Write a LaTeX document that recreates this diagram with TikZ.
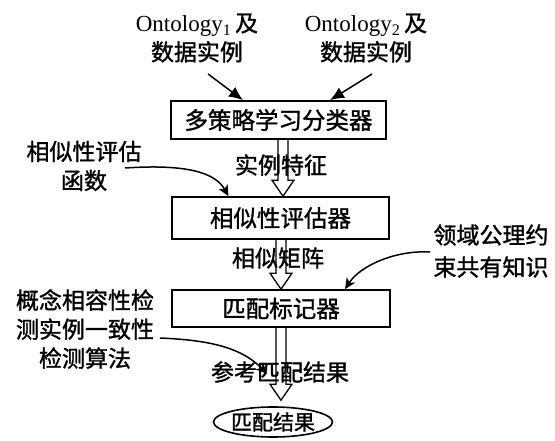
\documentclass[tikz,border=0pt]{standalone}
\usepackage{fontspec}
\setmainfont{Liberation Serif}
\newfontfamily\cjk[FakeBold=1.3]{Noto Sans CJK SC}
\usetikzlibrary{arrows.meta,shapes.geometric,calc}
\tikzset{
  box/.style={draw,line width=1.6pt,rectangle,inner sep=0pt,font=\cjk\fontsize{23.5}{26}\selectfont},
  lbl/.style={inner sep=0pt,align=center,font=\cjk\fontsize{23}{29}\selectfont},
  toplbl/.style={inner sep=0pt,align=center,font=\fontsize{23}{26}\selectfont},
  solidarr/.style={line width=1.5pt,-{Latex[length=14pt,width=12pt]}},
  curvarr/.style={line width=1.5pt,-{Stealth[length=11pt,width=10pt,inset=3pt]}},
  hollow/.style={line width=1.3pt,line join=miter,to path={
    let \p1=(\tikztostart), \p2=(\tikztotarget) in
    (\x1-5pt,\y1) -- (\x1-5pt,\y2+16pt) -- (\x1-11pt,\y2+16pt) -- (\x1,\y2)
    -- (\x1+11pt,\y2+16pt) -- (\x1+5pt,\y2+16pt) -- (\x1+5pt,\y1)}}
}
\begin{document}
\begin{tikzpicture}[x=1pt,y=-1pt]
\path[use as bounding box] (0,0) rectangle (555,441);
% boxes
\node[box,minimum width=215pt,minimum height=38pt] (b1) at (278.5,120) {多策略学习分类器};
\node[box,minimum width=217pt,minimum height=42pt] (b2) at (280.5,218) {相似性评估器};
\node[box,minimum width=218pt,minimum height=37pt] (b3) at (281,308.5) {匹配标记器};
\node[box,ellipse,minimum width=119pt,minimum height=30pt,font=\cjk\fontsize{21}{24}\selectfont] (e) at (273,422) {匹配结果};
% top labels
\node[toplbl] (o1) at (197,38) {Ontology\textsubscript{1}\,{\cjk 及}\\[3pt]{\cjk 数据实例}};
\node[toplbl] (o2) at (366,38) {Ontology\textsubscript{2}\,{\cjk 及}\\[3pt]{\cjk 数据实例}};
\coordinate (s1) at (208,74);
\coordinate (s2) at (372,74);
\draw[solidarr] (s1) -- ([xshift=-35.5pt]b1.north);
\draw[solidarr] (s2) -- ([xshift=51.5pt]b1.north);
% hollow arrows
\draw[hollow] ([xshift=4.5pt]b1.south) to ([xshift=4.5pt]b2.north);
\draw[hollow] ([xshift=0.5pt]b2.south) to ([xshift=0.5pt]b2.south |- b3.north);
\draw[hollow] ([xshift=0pt]b3.south) to ([yshift=6pt]b3.south |- e.north);
% arrow labels
\node[lbl] (l1) at (281,165) {实例特征};
\node[lbl] (l2) at (278,258) {相似矩阵};
\node[lbl] (l3) at (280,372) {参考匹配结果};
% side labels
\node[lbl] (sl1) at (84,166) {相似性评估\\函数};
\node[lbl] (sl2) at (85,329) {概念相容性检\\测实例一致性\\检测算法};
\node[lbl,font=\cjk\fontsize{23}{32}\selectfont] (sl3) at (491,251) {领域公理约\\束共有知识};
\coordinate (c1) at (125,168);
\coordinate (c2) at (160,338);
\coordinate (c3) at (430,252);
\draw[curvarr] (c1) .. controls (185,164) and (215,172) .. ([xshift=-52pt]b2.north);
\draw[curvarr] (c2) .. controls (205,340) and (240,346) .. ([xshift=-14pt,yshift=-46pt]b3.south);
\draw[curvarr] (c3) .. controls (395,250) and (360,266) .. ([xshift=64pt]b3.north);
\end{tikzpicture}
\end{document}
